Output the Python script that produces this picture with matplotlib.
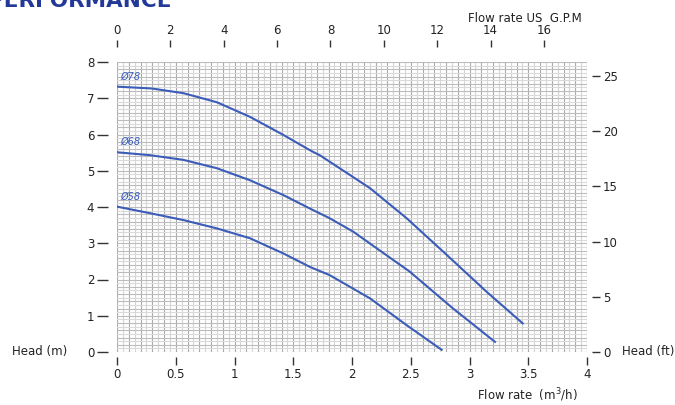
import numpy as np
import matplotlib
matplotlib.use("Agg")
import matplotlib.pyplot as plt

plt.rcParams['font.family'] = ['Liberation Sans Narrow', 'DejaVu Sans']
plt.rcParams['font.size'] = 8.5

# data: flow (m3/h) vs head (m)
q78 = [0, 0.295, 0.565, 0.85, 1.13, 1.415, 1.64, 1.73, 2.153, 2.465, 2.806, 3.146, 3.453]
h78 = [7.32, 7.27, 7.14, 6.89, 6.49, 5.99, 5.57, 5.42, 4.52, 3.69, 2.68, 1.66, 0.79]
q68 = [0, 0.28, 0.565, 0.85, 1.13, 1.415, 1.64, 1.81, 2.01, 2.49, 2.86, 3.217]
h68 = [5.51, 5.43, 5.30, 5.07, 4.74, 4.33, 3.96, 3.69, 3.32, 2.22, 1.20, 0.28]
q58 = [0, 0.28, 0.565, 0.85, 1.13, 1.415, 1.64, 1.81, 2.153, 2.465, 2.763]
h58 = [4.01, 3.83, 3.64, 3.41, 3.14, 2.72, 2.35, 2.12, 1.48, 0.74, 0.06]
labels = ['Ø78', 'Ø68', 'Ø58']

GPM = 4.403   # US gpm per m3/h
FT = 3.2808   # ft per m
blue = '#3b5cb8'
px = 0.72     # points per pixel at 100 dpi

fig = plt.figure(figsize=(6.75, 4.05), dpi=100)
ax = fig.add_axes([117/675, 1-352/405, 470/675, 290/405])
ax.set_xlim(0, 4)
ax.set_ylim(0, 8)

# graph paper grid
for i, x in enumerate(np.arange(0, 4.001, 0.05)):
    ax.axvline(x, color='#ababab' if i % 2 == 0 else '#d6d6d6', lw=0.8, zorder=0)
for i, y in enumerate(np.arange(0, 8.001, 0.1)):
    ax.axhline(y, color='#bcbcbc' if i % 2 == 0 else '#dadada', lw=0.8, zorder=0)

for q, h, lab in zip([q78, q68, q58], [h78, h68, h58], labels):
    ax.plot(q, h, color=blue, lw=1.5, zorder=3)
    ax.text(q[0] + 0.03, h[0] + 0.2, lab, color=blue, fontsize=7, style='italic', zorder=4)

for s in ax.spines.values():
    s.set_visible(False)
ax.set_xticks(np.arange(0, 4.01, 0.5))
ax.set_xticklabels(['0', '0.5', '1', '1.5', '2', '2.5', '3', '3.5', '4'])
ax.set_yticks(range(0, 9))
ax.spines['left'].set_position(('outward', 9*px))
ax.spines['bottom'].set_position(('outward', 5*px))
ax.tick_params(axis='y', length=11*px, width=1, pad=2, color='#333333', labelcolor='#222222')
ax.tick_params(axis='x', length=8*px, width=1, pad=2, color='#333333', labelcolor='#222222')

# top axis in US gpm
axt = ax.twiny()
axt.set_xlim(0, 4*GPM)
axt.set_xticks(range(0, 17, 2))
for s in axt.spines.values():
    s.set_visible(False)
axt.spines['top'].set_position(('outward', 15*px))
axt.tick_params(axis='x', length=7*px, width=1, pad=2, color='#333333', labelcolor='#222222')

# right axis in feet
axr = ax.twinx()
axr.set_ylim(0, 8*FT)
axr.set_yticks(range(0, 26, 5))
for s in axr.spines.values():
    s.set_visible(False)
axr.spines['right'].set_position(('outward', 5*px))
axr.tick_params(axis='y', length=8*px, width=1, pad=2, color='#333333', labelcolor='#222222')

fig.text(12/675, 1-352/405, 'Head (m)', va='center', ha='left', fontsize=8.5, color='#222222')
fig.text(622/675, 1-352/405, 'Head (ft)', va='center', ha='left', fontsize=8.5, color='#222222')
fig.text(525/675, 1-18/405, 'Flow rate US  G.P.M', va='center', ha='center', fontsize=8.5, color='#222222')
fig.text(527/675, 1-395/405, 'Flow rate  (m$^3$/h)', va='center', ha='center', fontsize=8.5, color='#222222')
fig.text(-12/675, 1-7/405, 'PERFORMANCE', color='#23399a', fontsize=15.5, fontweight='bold',
         va='baseline', ha='left')

fig.savefig('out.png', dpi=100)
